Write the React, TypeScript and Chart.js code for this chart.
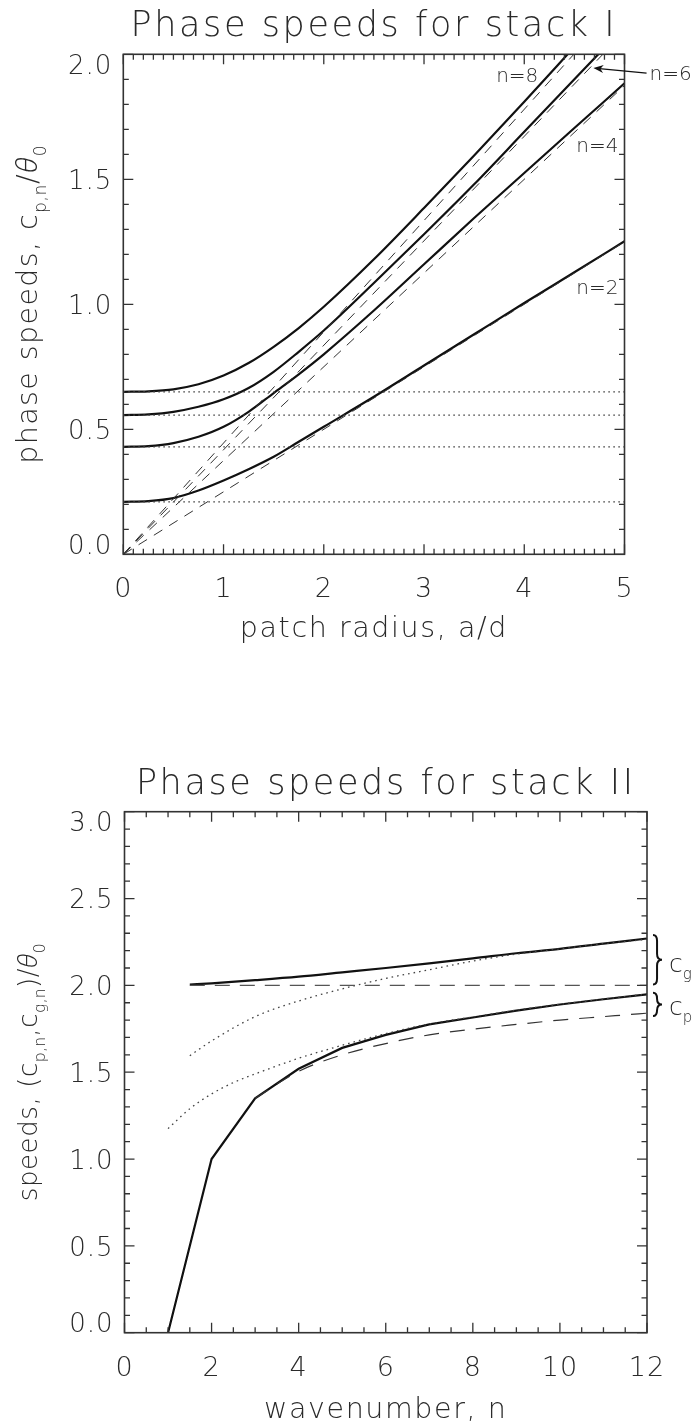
import React, { useEffect, useRef } from 'react';
import { Chart, registerables } from 'chart.js';

Chart.register(...registerables);

const FONT_FAMILY = '"DejaVu Sans", Inter, "Open Sans", sans-serif';
const GREEK_FAMILY = '"Open Sans", Inter, "Noto Sans", sans-serif';
const FONT_WEIGHT = 200;
const INK = '#2a2a2a';
const AXIS = '#333333';
const CURVE = '#111111';

// ---------------- Stack I : phase speed vs patch radius ----------------
const radius = [0, 0.25, 0.5, 0.75, 1, 1.25, 1.5, 1.75, 2, 2.5, 3, 3.5, 4, 4.5, 5];
const phaseN2 = [0.21, 0.213, 0.225, 0.255, 0.295, 0.34, 0.39, 0.45, 0.51, 0.63, 0.755, 0.88, 1.005, 1.128, 1.252];
const phaseN4 = [0.43, 0.433, 0.445, 0.47, 0.51, 0.57, 0.645, 0.72, 0.8, 0.975, 1.16, 1.345, 1.525, 1.705, 1.884];
const phaseN6 = [0.557, 0.56, 0.57, 0.59, 0.62, 0.665, 0.73, 0.81, 0.895, 1.085, 1.28, 1.48, 1.69, 1.9, 2.11];
const phaseN8 = [0.65, 0.652, 0.66, 0.68, 0.715, 0.765, 0.83, 0.905, 0.99, 1.18, 1.385, 1.595, 1.81, 2.03, 2.25];
const asymptoteRadius = [0, 5];
const asymptoteN2 = [0, 1.25];
const asymptoteN4 = [0, 1.875];
const asymptoteN6 = [0, 2.09];
const asymptoteN8 = [0, 2.225];
const baselineRadius = [0, 5];
const baselineLevels = [0.21, 0.43, 0.557, 0.65];
const stackIxLabels = ['0', '1', '2', '3', '4', '5'];
const stackIyLabels = ['0.0', '0.5', '1.0', '1.5', '2.0'];
const stackINotes = [
  { text: 'n=8', x: 3.93, y: 1.909 },
  { text: 'n=6', x: 5.46, y: 1.917 },
  { text: 'n=4', x: 4.73, y: 1.63 },
  { text: 'n=2', x: 4.73, y: 1.064 },
];
const stackIArrow = { from: [5.22, 1.925], to: [4.69, 1.945] };

// ---------------- Stack II : speeds vs wavenumber ----------------
const waveCp = [1, 2, 3, 4, 5, 6, 7, 8, 9, 10, 11, 12];
const cpSolid = [0, 1.0, 1.35, 1.52, 1.64, 1.715, 1.775, 1.815, 1.855, 1.89, 1.92, 1.948];
const waveCpDashed = [3, 4, 5, 6, 7, 8, 9, 10, 11, 12];
const cpDashed = [1.35, 1.505, 1.6, 1.665, 1.715, 1.748, 1.775, 1.8, 1.82, 1.84];
const waveCpDotted = [1, 1.5, 2, 2.5, 3, 4, 5, 6, 7, 8, 9, 10, 11, 12];
const cpDotted = [1.175, 1.29, 1.375, 1.44, 1.49, 1.58, 1.655, 1.722, 1.778, 1.818, 1.857, 1.891, 1.921, 1.95];
const waveCg = [1.5, 2, 3, 4, 5, 6, 7, 8, 9, 10, 11, 12];
const cgSolid = [2.005, 2.012, 2.03, 2.05, 2.075, 2.1, 2.127, 2.155, 2.185, 2.21, 2.24, 2.27];
const cgDotted = [1.595, 1.68, 1.82, 1.91, 1.98, 2.04, 2.09, 2.14, 2.18, 2.21, 2.24, 2.265];
const waveCgDashed = [1.5, 12];
const cgDashed = [2.0, 2.0];
const stackIIxLabels = ['0', '2', '4', '6', '8', '10', '12'];
const stackIIyLabels = ['0.0', '0.5', '1.0', '1.5', '2.0', '2.5', '3.0'];
const stackIIBraces = [
  { hi: 2.29, lo: 2.005, mid: 2.12, main: 'c', sub: 'g' },
  { hi: 1.957, lo: 1.823, mid: 1.87, main: 'c', sub: 'p' },
];

type Seg = { t: string; sub?: boolean; greek?: boolean };

function fontOf(size: number, greek = false) {
  return greek ? `italic 300 ${size}px ${GREEK_FAMILY}` : `${FONT_WEIGHT} ${size}px ${FONT_FAMILY}`;
}

function drawRich(ctx: CanvasRenderingContext2D, segs: Seg[], x: number, y: number, size: number, spacing: number, align: 'center' | 'left' = 'center') {
  const parts = segs.map((s) => {
    const sz = s.sub ? size * 0.6 : size;
    const ls = s.sub ? spacing * 0.4 : spacing;
    ctx.font = fontOf(sz, s.greek);
    (ctx as any).letterSpacing = `${ls}px`;
    return { s, sz, ls, w: ctx.measureText(s.t).width };
  });
  const total = parts.reduce((a, p) => a + p.w, 0);
  let cx = align === 'center' ? x - total / 2 : x;
  ctx.textAlign = 'left';
  for (const p of parts) {
    ctx.font = fontOf(p.sz, p.s.greek);
    (ctx as any).letterSpacing = `${p.ls}px`;
    ctx.fillText(p.s.t, cx, y + (p.s.sub ? size * 0.3 : 0));
    cx += p.w;
  }
  (ctx as any).letterSpacing = '0px';
}

interface DecorOpts {
  title: string;
  xTitle: Seg[];
  yTitle: Seg[];
  yTitleSize: number;
  yTitleSpacing: number;
  xMinor: number;
  xMajor: number;
  yMinor: number;
  yMajor: number;
  titleGap: number;
  xTitleGap: number;
  yTitleX: number;
  notes?: { text: string; x: number; y: number }[];
  arrow?: { from: number[]; to: number[] };
  braces?: { hi: number; lo: number; mid: number; main: string; sub: string }[];
}

function makeDecor(d: DecorOpts) {
  return {
    id: 'decor',
    beforeDraw(chart: any) {
      chart.ctx.letterSpacing = '1px';
    },
    afterDraw(chart: any) {
      const ctx: CanvasRenderingContext2D = chart.ctx;
      const { left, right, top, bottom } = chart.chartArea;
      const xs = chart.scales.x;
      const ys = chart.scales.y;
      ctx.save();
      (ctx as any).letterSpacing = '0px';
      ctx.setLineDash([]);
      ctx.strokeStyle = AXIS;
      ctx.lineWidth = 1.3;
      ctx.beginPath();
      const nx = Math.round((xs.max - xs.min) / d.xMinor);
      for (let i = 0; i <= nx; i++) {
        const v = xs.min + i * d.xMinor;
        const major = Math.abs(v / d.xMajor - Math.round(v / d.xMajor)) < 1e-6;
        const len = major ? 10 : 5.5;
        const px = xs.getPixelForValue(v);
        ctx.moveTo(px, bottom);
        ctx.lineTo(px, bottom - len);
        ctx.moveTo(px, top);
        ctx.lineTo(px, top + len);
      }
      const ny = Math.round((ys.max - ys.min) / d.yMinor);
      for (let i = 0; i <= ny; i++) {
        const v = ys.min + i * d.yMinor;
        const major = Math.abs(v / d.yMajor - Math.round(v / d.yMajor)) < 1e-6;
        const len = major ? 10 : 5.5;
        const py = ys.getPixelForValue(v);
        ctx.moveTo(left, py);
        ctx.lineTo(left + len, py);
        ctx.moveTo(right, py);
        ctx.lineTo(right - len, py);
      }
      ctx.stroke();
      ctx.lineWidth = 1.6;
      ctx.strokeRect(left, top, right - left, bottom - top);

      ctx.fillStyle = INK;
      ctx.textBaseline = 'alphabetic';
      drawRich(ctx, [{ t: d.title }], (left + right) / 2, top - d.titleGap, 35, 2.6);
      drawRich(ctx, d.xTitle, (left + right) / 2, bottom + d.xTitleGap, 28.5, 1.6);
      ctx.save();
      ctx.translate(d.yTitleX, (top + bottom) / 2);
      ctx.rotate(-Math.PI / 2);
      drawRich(ctx, d.yTitle, 0, 0, d.yTitleSize, d.yTitleSpacing);
      ctx.restore();

      if (d.notes) {
        ctx.font = fontOf(20);
        ctx.textAlign = 'center';
        ctx.textBaseline = 'middle';
        for (const n of d.notes) {
          ctx.fillText(n.text, xs.getPixelForValue(n.x), ys.getPixelForValue(n.y));
        }
      }
      if (d.arrow) {
        const x1 = xs.getPixelForValue(d.arrow.from[0]);
        const y1 = ys.getPixelForValue(d.arrow.from[1]);
        const x2 = xs.getPixelForValue(d.arrow.to[0]);
        const y2 = ys.getPixelForValue(d.arrow.to[1]);
        const ang = Math.atan2(y2 - y1, x2 - x1);
        ctx.strokeStyle = CURVE;
        ctx.fillStyle = CURVE;
        ctx.lineWidth = 1.3;
        ctx.beginPath();
        ctx.moveTo(x1, y1);
        ctx.lineTo(x2 - 6 * Math.cos(ang), y2 - 6 * Math.sin(ang));
        ctx.stroke();
        const hl = 10;
        const hw = 4;
        ctx.beginPath();
        ctx.moveTo(x2, y2);
        ctx.lineTo(x2 - hl * Math.cos(ang) + hw * Math.sin(ang), y2 - hl * Math.sin(ang) - hw * Math.cos(ang));
        ctx.lineTo(x2 - hl * 0.7 * Math.cos(ang), y2 - hl * 0.7 * Math.sin(ang));
        ctx.lineTo(x2 - hl * Math.cos(ang) - hw * Math.sin(ang), y2 - hl * Math.sin(ang) + hw * Math.cos(ang));
        ctx.closePath();
        ctx.fill();
      }
      if (d.braces) {
        for (const b of d.braces) {
          const y1 = ys.getPixelForValue(b.hi);
          const y2 = ys.getPixelForValue(b.lo);
          const ym = (y1 + y2) / 2;
          const x0 = right + 6;
          const w = 9;
          const xm = x0 + w * 0.45;
          const r = Math.min(6, (y2 - y1) / 4);
          ctx.strokeStyle = CURVE;
          ctx.lineWidth = 2;
          ctx.beginPath();
          ctx.moveTo(x0, y1);
          ctx.quadraticCurveTo(xm, y1, xm, y1 + r);
          ctx.lineTo(xm, ym - r);
          ctx.quadraticCurveTo(xm, ym, x0 + w, ym);
          ctx.quadraticCurveTo(xm, ym, xm, ym + r);
          ctx.lineTo(xm, y2 - r);
          ctx.quadraticCurveTo(xm, y2, x0, y2);
          ctx.stroke();
          ctx.fillStyle = INK;
          ctx.textBaseline = 'alphabetic';
          drawRich(ctx, [{ t: b.main }, { t: b.sub, sub: true }], right + 22, ys.getPixelForValue(b.mid) + 7, 25, 0, 'left');
        }
      }
      ctx.restore();
    },
  };
}

const pts = (xs: number[], ys: number[]) => xs.map((x, i) => ({ x, y: ys[i] }));

function tickFont(size: number, lineHeight: number) {
  return { family: FONT_FAMILY, size, weight: FONT_WEIGHT as any, lineHeight };
}

function yLabel(labels: string[]) {
  return (_v: any, i: number, ticks: any[]) => {
    const s = labels[i];
    if (i === ticks.length - 1) return ['', s];
    if (i === 0) return [s, ''];
    return s;
  };
}

function baseOptions(pad: any) {
  return {
    animation: false as const,
    responsive: false,
    devicePixelRatio: 1,
    events: [] as any[],
    layout: { padding: pad },
    plugins: { legend: { display: false }, tooltip: { enabled: false }, title: { display: false } },
  };
}

function stackIConfig(): any {
  const solid = (ys: number[]) => ({ data: pts(radius, ys), borderColor: CURVE, borderWidth: 2.2, pointRadius: 0, cubicInterpolationMode: 'monotone' });
  const dashed = (ys: number[]) => ({ data: pts(asymptoteRadius, ys), borderColor: '#333', borderWidth: 1, borderDash: [10, 8], pointRadius: 0 });
  const dotted = (lvl: number) => ({ data: baselineRadius.map((x) => ({ x, y: lvl })), borderColor: '#444', borderWidth: 1.3, borderDash: [1.6, 3.4], pointRadius: 0 });
  return {
    type: 'line',
    data: {
      datasets: [
        ...baselineLevels.map(dotted),
        dashed(asymptoteN2),
        dashed(asymptoteN4),
        dashed(asymptoteN6),
        dashed(asymptoteN8),
        solid(phaseN2),
        solid(phaseN4),
        solid(phaseN6),
        solid(phaseN8),
      ],
    },
    options: {
      ...baseOptions({ left: 0, right: 68.5, top: 54.3, bottom: 0 }),
      scales: {
        x: {
          type: 'linear', min: 0, max: 5,
          grid: { display: false, drawTicks: false }, border: { display: false },
          ticks: { stepSize: 1, autoSkip: false, maxRotation: 0, color: INK, font: tickFont(27, 1), padding: 22, callback: (_v: any, i: number) => stackIxLabels[i] },
          afterFit: (s: any) => { s.height = 145.7; },
        },
        y: {
          type: 'linear', min: 0, max: 2,
          grid: { display: false, drawTicks: false }, border: { display: false },
          ticks: { stepSize: 0.5, autoSkip: false, color: INK, font: tickFont(26, 0.77), padding: 11, labelOffset: 2.5, callback: yLabel(stackIyLabels) },
          afterFit: (s: any) => { s.width = 123.3; },
        },
      },
    },
    plugins: [
      makeDecor({
        title: 'Phase speeds for stack I',
        xTitle: [{ t: 'patch radius, a/d' }],
        yTitle: [{ t: 'phase speeds, c' }, { t: 'p,n', sub: true }, { t: '/' }, { t: 'θ', greek: true }, { t: '0', sub: true }],
        yTitleSize: 28.5, yTitleSpacing: 1.4,
        xMinor: 0.1, xMajor: 1, yMinor: 0.1, yMajor: 0.5,
        titleGap: 18, xTitleGap: 82.4, yTitleX: 37,
        notes: stackINotes,
        arrow: stackIArrow,
      }),
    ],
  };
}

function stackIIConfig(): any {
  return {
    type: 'line',
    data: {
      datasets: [
        { data: pts(waveCgDashed, cgDashed), borderColor: '#555', borderWidth: 1.4, borderDash: [15, 10], pointRadius: 0 },
        { data: pts(waveCpDashed, cpDashed), borderColor: '#333', borderWidth: 1.2, borderDash: [15, 11], pointRadius: 0, cubicInterpolationMode: 'monotone' },
        { data: pts(waveCg, cgDotted), borderColor: '#444', borderWidth: 1.3, borderDash: [1.6, 4], pointRadius: 0, cubicInterpolationMode: 'monotone' },
        { data: pts(waveCpDotted, cpDotted), borderColor: '#444', borderWidth: 1.3, borderDash: [1.6, 4], pointRadius: 0, cubicInterpolationMode: 'monotone' },
        { data: pts(waveCg, cgSolid), borderColor: CURVE, borderWidth: 2.2, pointRadius: 0, cubicInterpolationMode: 'monotone' },
        { data: pts(waveCp, cpSolid), borderColor: CURVE, borderWidth: 2.2, pointRadius: 0, tension: 0 },
      ],
    },
    options: {
      ...baseOptions({ left: 0, right: 46, top: 111.7, bottom: 0 }),
      scales: {
        x: {
          type: 'linear', min: 0, max: 12,
          grid: { display: false, drawTicks: false }, border: { display: false },
          ticks: { stepSize: 2, autoSkip: false, maxRotation: 0, color: INK, font: tickFont(27, 1), padding: 23, callback: (_v: any, i: number) => stackIIxLabels[i] },
          afterFit: (s: any) => { s.height = 92.3; },
        },
        y: {
          type: 'linear', min: 0, max: 3,
          grid: { display: false, drawTicks: false }, border: { display: false },
          ticks: { stepSize: 0.5, autoSkip: false, color: INK, font: tickFont(26, 0.77), padding: 11, labelOffset: 3, callback: yLabel(stackIIyLabels) },
          afterFit: (s: any) => { s.width = 124.5; },
        },
      },
    },
    plugins: [
      makeDecor({
        title: 'Phase speeds for stack II',
        xTitle: [{ t: 'wavenumber, n' }],
        yTitle: [
          { t: 'speeds, (c' }, { t: 'p,n', sub: true }, { t: ',c' }, { t: 'g,n', sub: true }, { t: ')/' }, { t: 'θ', greek: true }, { t: '0', sub: true },
        ],
        yTitleSize: 26, yTitleSpacing: 0.6,
        xMinor: 0.5, xMajor: 2, yMinor: 0.1, yMajor: 0.5,
        titleGap: 18, xTitleGap: 85.3, yTitleX: 37,
        braces: stackIIBraces,
      }),
    ],
  };
}

function ChartCanvas({ make, top, height }: { make: () => any; top: number; height: number }) {
  const ref = useRef<HTMLCanvasElement | null>(null);
  useEffect(() => {
    if (!ref.current) return;
    const chart = new Chart(ref.current, make());
    return () => chart.destroy();
  }, [make]);
  return (
    <canvas
      ref={ref}
      width={693}
      height={height}
      style={{ position: 'absolute', left: 0, top, width: 693, height, display: 'block' }}
    />
  );
}

export default function App() {
  return (
    <div style={{ position: 'absolute', left: 0, top: 0, width: 693, height: 1425, background: '#fff', overflow: 'hidden' }}>
      <ChartCanvas make={stackIConfig} top={0} height={700} />
      <ChartCanvas make={stackIIConfig} top={700} height={725} />
    </div>
  );
}
